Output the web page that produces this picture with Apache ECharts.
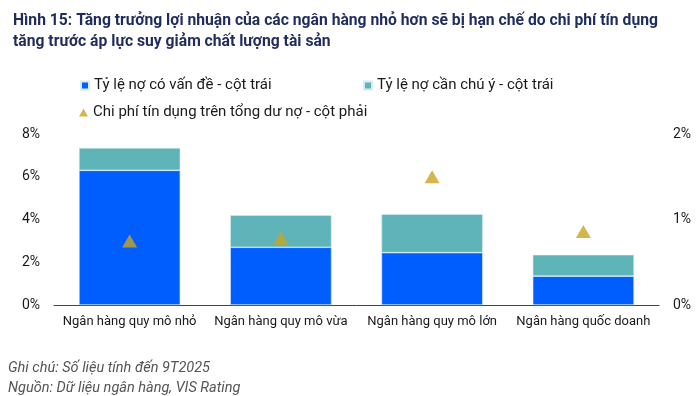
<!DOCTYPE html>
<html><head><meta charset="utf-8">
<script src="https://cdn.jsdelivr.net/npm/echarts@6/dist/echarts.min.js"></script>
<style>html,body{margin:0;padding:0;background:#fff}#c{width:700px;height:396px}</style>
</head><body><div id="c"></div>
<script>
var categories = ['Ngân hàng quy mô nhỏ','Ngân hàng quy mô vừa','Ngân hàng quy mô lớn','Ngân hàng quốc doanh'];
var problemLoans = [6.3, 2.7, 2.45, 1.35];
var watchLoans = [1.05, 1.5, 1.8, 1.0];
var creditCost = [0.75, 0.78, 1.5, 0.86];
var leftTicks = [0, 2, 4, 6, 8];
var rightTicks = [0, 1, 2];
var seriesNames = ['Tỷ lệ nợ có vấn đề - cột trái','Tỷ lệ nợ cần chú ý - cột trái','Chi phí tín dụng trên tổng dư nợ - cột phải'];

var chart = echarts.init(document.getElementById('c'));
var txt = '#1a1a1a';
var legendText = {color: txt, fontSize: 15, fontFamily: 'Roboto'};
chart.setOption({
  animation: false,
  title: {
    text: 'Hình 15: Tăng trưởng lợi nhuận của các ngân hàng nhỏ hơn sẽ bị hạn chế do chi phí tín dụng\ntăng trước áp lực suy giảm chất lượng tài sản',
    left: 8, top: 6,
    textStyle: {color: '#1f2c5c', fontSize: 15.7, fontWeight: 'bold', fontFamily: 'Roboto', lineHeight: 21}
  },
  legend: [
    {data: [seriesNames[0]], left: 80, top: 78, padding: 0, itemWidth: 8, itemHeight: 8, textStyle: legendText, icon: 'rect'},
    {data: [seriesNames[1]], left: 363, top: 78, padding: 0, itemWidth: 8, itemHeight: 8, textStyle: legendText, icon: 'rect'},
    {data: [seriesNames[2]], left: 79, top: 105, padding: 0, itemWidth: 9, itemHeight: 8, textStyle: legendText, icon: 'triangle'}
  ],
  graphic: [
    {type: 'text', left: 8, top: 361, style: {text: 'Ghi chú: Số liệu tính đến 9T2025', fill: '#555', font: 'italic 14.5px Roboto'}},
    {type: 'text', left: 8, top: 381, style: {text: 'Nguồn: Dữ liệu ngân hàng, VIS Rating', fill: '#555', font: 'italic 14.5px Roboto'}}
  ],
  grid: {left: 54, right: 41, top: 134, bottom: 91, containLabel: false},
  xAxis: {
    type: 'category', data: categories,
    axisLine: {lineStyle: {color: '#444', width: 1}},
    axisTick: {show: false},
    axisLabel: {color: txt, fontSize: 13, fontFamily: 'Roboto', margin: 10, interval: 0}
  },
  yAxis: [
    {type: 'value', min: leftTicks[0], max: leftTicks[leftTicks.length-1], interval: 2,
     splitLine: {show: false}, axisLine: {show: false}, axisTick: {show: false},
     axisLabel: {formatter: '{value}%', color: txt, fontSize: 14, fontFamily: 'Roboto', margin: 14}},
    {type: 'value', min: rightTicks[0], max: rightTicks[rightTicks.length-1], interval: 1,
     splitLine: {show: false}, axisLine: {show: false}, axisTick: {show: false},
     axisLabel: {formatter: '{value}%', color: txt, fontSize: 14, fontFamily: 'Roboto', margin: 14}}
  ],
  series: [
    {name: seriesNames[0], type: 'bar', stack: 'a', data: problemLoans, barWidth: '67%',
     itemStyle: {color: '#005eff', borderColor: '#d8ecf0', borderWidth: 0.6}},
    {name: seriesNames[1], type: 'bar', stack: 'a', data: watchLoans, barWidth: '67%',
     itemStyle: {color: '#5fb4ba', borderColor: '#d8ecf0', borderWidth: 0.6}},
    {name: seriesNames[2], type: 'scatter', yAxisIndex: 1, data: creditCost, symbol: 'triangle', symbolSize: [15, 13],
     itemStyle: {color: '#c9a51f'}}
  ]
});
</script></body></html>
